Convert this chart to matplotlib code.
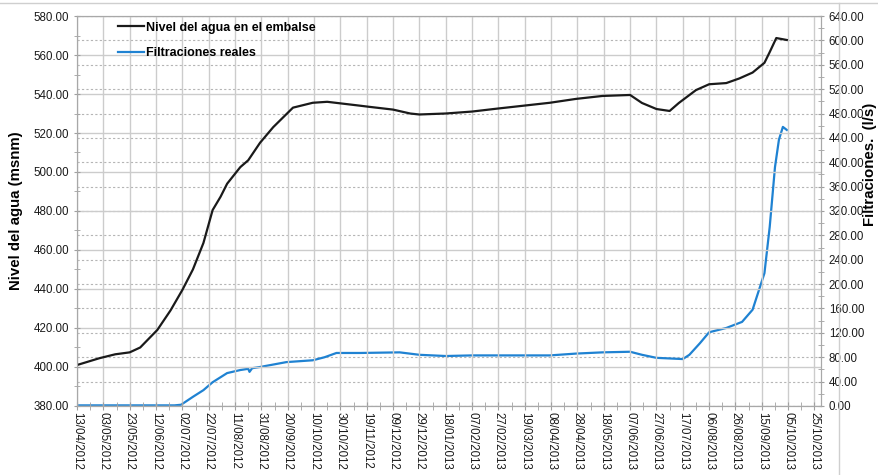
import matplotlib
matplotlib.use("Agg")
import matplotlib.pyplot as plt
import matplotlib.dates as mdates
import matplotlib.ticker as mticker
import pandas as pd
from matplotlib.lines import Line2D

plt.rcParams['font.family'] = ['Liberation Sans', 'DejaVu Sans']

# Nivel del agua en el embalse (msnm)
nivel_fechas = [
    "2012-04-13", "2012-04-30", "2012-05-12", "2012-05-23", "2012-05-31",
    "2012-06-13", "2012-06-23", "2012-07-02", "2012-07-10", "2012-07-18",
    "2012-07-25", "2012-07-31", "2012-08-05", "2012-08-15", "2012-08-21",
    "2012-08-30", "2012-09-09", "2012-09-24", "2012-10-09", "2012-10-20",
    "2012-11-14", "2012-11-20", "2012-12-09", "2012-12-22", "2012-12-29",
    "2013-01-18", "2013-02-07", "2013-02-26", "2013-03-18", "2013-04-07",
    "2013-04-27", "2013-05-17", "2013-06-07", "2013-06-16", "2013-06-27",
    "2013-07-07", "2013-07-14", "2013-07-27", "2013-08-06", "2013-08-19",
    "2013-08-29", "2013-09-08", "2013-09-17", "2013-09-21", "2013-09-26",
    "2013-10-04",
]
nivel_msnm = [
    401.0, 404.5, 406.5, 407.5, 410.0,
    419.0, 429.0, 439.5, 450.0, 463.6,
    480.5, 487.3, 494.0, 502.5, 506.0,
    515.0, 523.0, 533.0, 535.5, 536.0,
    534.0, 533.5, 532.0, 530.0, 529.5,
    530.0, 531.0, 532.5, 534.0, 535.5,
    537.5, 539.0, 539.5, 535.4, 532.3,
    531.3, 535.4, 542.0, 545.0, 545.6,
    548.0, 551.0, 556.0, 561.5, 568.7,
    567.7,
]

# Filtraciones reales (l/s)
filt_fechas = [
    "2012-04-13", "2012-06-26", "2012-07-01", "2012-07-10", "2012-07-18",
    "2012-07-25", "2012-08-05", "2012-08-15", "2012-08-21", "2012-08-22",
    "2012-08-24", "2012-08-30", "2012-09-19", "2012-10-09", "2012-10-18",
    "2012-10-27", "2012-11-14", "2012-12-14", "2012-12-29", "2013-01-18",
    "2013-02-07", "2013-04-07", "2013-04-27", "2013-05-17", "2013-06-07",
    "2013-06-16", "2013-06-27", "2013-07-17", "2013-07-22", "2013-07-30",
    "2013-08-06", "2013-08-19", "2013-08-31", "2013-09-08", "2013-09-17",
    "2013-09-21", "2013-09-25", "2013-09-28", "2013-10-01", "2013-10-04",
]
filt_ls = [
    1, 1, 2, 15, 26,
    39, 54, 59, 61, 56,
    62, 64, 72, 75, 80,
    87, 87, 88, 84, 82,
    83, 83, 86, 88, 89,
    84, 79, 77, 84, 103,
    121, 128, 138, 158, 218,
    294, 392, 437, 458, 453,
]

tick_inicio = "2012-04-13"
tick_fin = "2013-10-25"

fig = plt.figure(figsize=(8.79, 4.75), dpi=100)
ax = fig.add_axes([0.0876, 0.1453, 0.8465, 0.8210])
ax2 = ax.twinx()
ax.set_zorder(ax2.get_zorder() + 1)
ax.patch.set_visible(False)

x_niv = pd.to_datetime(nivel_fechas)
x_fil = pd.to_datetime(filt_fechas)

l1, = ax.plot(x_niv, nivel_msnm, color='#1a1a1a', lw=1.6, label='Nivel del agua en el embalse')
l2, = ax2.plot(x_fil, filt_ls, color='#1f82d2', lw=1.6, label='Filtraciones reales')

# ejes
ax.set_ylim(380, 580)
ax2.set_ylim(0, 640)
ax.yaxis.set_major_locator(mticker.MultipleLocator(20))
ax.yaxis.set_minor_locator(mticker.MultipleLocator(10))
ax2.yaxis.set_major_locator(mticker.MultipleLocator(40))
ax2.yaxis.set_minor_locator(mticker.MultipleLocator(20))
ax.yaxis.set_major_formatter(mticker.FormatStrFormatter('%.2f'))
ax2.yaxis.set_major_formatter(mticker.FormatStrFormatter('%.2f'))

major = pd.date_range(tick_inicio, tick_fin, freq='20D')
minor = pd.date_range(tick_inicio, tick_fin, freq='10D')
ax.set_xlim(pd.Timestamp(tick_inicio), pd.Timestamp(tick_fin) + pd.Timedelta(days=5))
ax.xaxis.set_major_locator(mticker.FixedLocator(mdates.date2num(major)))
ax.xaxis.set_minor_locator(mticker.FixedLocator(mdates.date2num(minor)))
ax.xaxis.set_major_formatter(mdates.DateFormatter('%d/%m/%Y'))
plt.setp(ax.get_xticklabels(), rotation=-90, ha='center', va='top')

for a in (ax, ax2):
    a.tick_params(which='both', colors='#a0a0a0', labelcolor='#1a1a1a', labelsize=8.3)
    a.tick_params(axis='y', which='both', direction='inout', length=5)
    for s in a.spines.values():
        s.set_color('#a8a8a8')
ax.tick_params(axis='x', which='both', direction='inout', length=6, pad=1)
ax.tick_params(axis='y', pad=3)
ax2.tick_params(axis='y', pad=3)

# rejilla
ax.grid(True, which='major', axis='both', color='#cccccc', lw=1.0, ls='-')
ax2.grid(True, which='major', axis='y', color='#b5b5b5', lw=0.8, ls=(0, (2, 2)))
ax.set_axisbelow(True)
ax2.set_axisbelow(True)

ax.set_ylabel('Nivel del agua (msnm)', fontsize=10.8, fontweight='bold')
ax2.set_ylabel('Filtraciones.  (l/s)', fontsize=10.8, fontweight='bold', rotation=90)
ax.yaxis.set_label_coords(-0.073, 0.5)
ax2.yaxis.set_label_coords(1.057, 0.62)

leg = ax.legend(handles=[l1, l2], loc='upper left', bbox_to_anchor=(0.055, 0.985),
                frameon=False, fontsize=9, handlelength=2.1, handletextpad=0.15,
                labelspacing=1.05, borderpad=0, borderaxespad=0)
for t in leg.get_texts():
    t.set_fontweight('bold')

# marco exterior
fig.add_artist(Line2D([0, 1], [0.994, 0.994], color='#cfcfcf', lw=1.0))
fig.add_artist(Line2D([0.954, 0.954], [0, 0.994], color='#cfcfcf', lw=1.0))

fig.savefig("out.png", dpi=100)
